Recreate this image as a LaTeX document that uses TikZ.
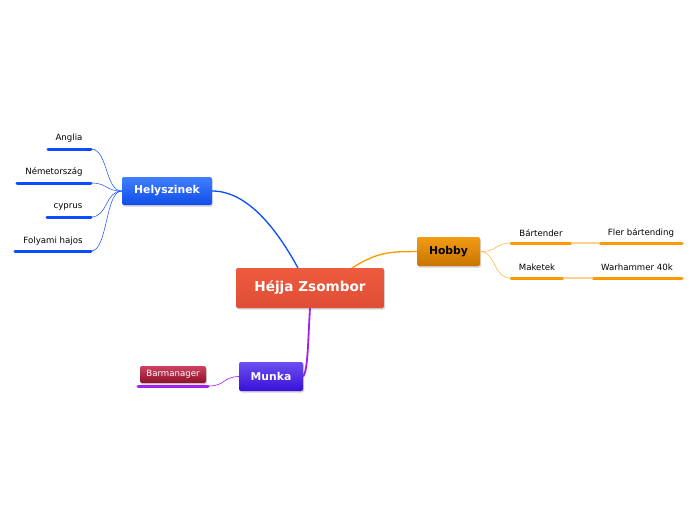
\documentclass[tikz,border=0pt]{standalone}
\usepackage{fontspec}
\setmainfont{DejaVu Sans}
\usetikzlibrary{shadows}

\definecolor{blueline}{RGB}{10,76,255}
\definecolor{orangeline}{RGB}{255,153,0}
\definecolor{purpleline}{RGB}{160,32,240}

\tikzset{
  topic/.style={rounded corners=2pt, text=white, font=\bfseries\fontsize{10.8}{13}\selectfont,
    drop shadow={opacity=0.35, shadow xshift=1pt, shadow yshift=-1.5pt}},
  leaf/.style={font=\fontsize{8.6}{10}\selectfont, inner sep=0pt}
}

\begin{document}
\begin{tikzpicture}[x=1pt, y=-1pt]

\useasboundingbox (0,0) rectangle (696,520);

% main topics
\node (root) at (310,288) [topic, minimum width=148pt, minimum height=40pt,
  top color={rgb,255:red,238;green,90;blue,62}, bottom color={rgb,255:red,222;green,78;blue,54},
  font=\bfseries\fontsize{13.6}{16}\selectfont] {Héjja Zsombor};

\node (helyszinek) at (167,191) [topic, minimum width=90pt, minimum height=28pt,
  top color={rgb,255:red,64;green,126;blue,255}, bottom color={rgb,255:red,16;green,78;blue,232}] {Helyszinek};

\node (hobby) at (448.5,251.5) [topic, minimum width=63pt, minimum height=29pt, text=black,
  top color={rgb,255:red,242;green,156;blue,20}, bottom color={rgb,255:red,200;green,116;blue,0}] {Hobby};

\node (munka) at (271,376.5) [topic, minimum width=64pt, minimum height=29pt,
  top color={rgb,255:red,108;green,80;blue,240}, bottom color={rgb,255:red,56;green,16;blue,216}] {Munka};

\node (barmanager) at (173,374.5) [topic, minimum width=66pt, minimum height=17pt,
  font=\fontsize{8.6}{10}\selectfont,
  top color={rgb,255:red,204;green,68;blue,96}, bottom color={rgb,255:red,142;green,16;blue,40}] {Barmanager};

% connectors from the root
\draw [blueline, line width=1.3pt] (helyszinek.east) .. controls (250,191) and (280,235) .. (298,268);
\draw [orangeline, line width=1.3pt] (352,268) .. controls (380,250) and (395,252) .. (hobby.west);
\draw [purpleline, line width=1.8pt] (310,308) .. controls (308,340) and (308,370) .. (munka.east);

% Helyszinek children
\coordinate (anglia) at (91,149);
\coordinate (nemet) at (91,183);
\coordinate (cyprus) at (91,217);
\coordinate (folyami) at (91,251);

\draw [blueline, line width=3pt, line cap=round] (48,149) -- (anglia);
\draw [blueline, line width=3pt, line cap=round] (17,183) -- (nemet);
\draw [blueline, line width=3pt, line cap=round] (47,217) -- (cyprus);
\draw [blueline, line width=3pt, line cap=round] (15,251) -- (folyami);

\node (t1) at (69,138) [leaf] {Anglia};
\node (t2) at (54,172) [leaf] {Németország};
\node (t3) at (68,207) [leaf] {cyprus};
\node (t4) at (53,241) [leaf] {Folyami hajos};

\foreach \c in {anglia, nemet, cyprus, folyami}
  \draw [blueline, line width=0.5pt] (helyszinek.west) .. controls (105,191) and (108,0|-\c) .. (\c);

% Hobby children
\coordinate (bart) at (511,243);
\coordinate (maketek) at (511,278);

\draw [orangeline, line width=3pt, line cap=round] (bart) -- (571,243);
\draw [orangeline, line width=3pt, line cap=round] (600,243) -- (682,243);
\draw [orangeline, line width=3pt, line cap=round] (maketek) -- (563,278);
\draw [orangeline, line width=3pt, line cap=round] (593,278) -- (682,278);
\draw [orangeline!45, line width=1.2pt] (571,243) -- (600,243);
\draw [orangeline!45, line width=1.2pt] (563,278) -- (593,278);

\node (t5) at (541,233) [leaf] {Bártender};
\node (t6) at (641,233) [leaf] {Fler bártending};
\node (t7) at (537,267) [leaf] {Maketek};
\node (t8) at (637,267) [leaf] {Warhammer 40k};

\draw [orangeline!70, line width=0.6pt] (hobby.east) .. controls (497,252) and (495,243) .. (bart);
\draw [orangeline!70, line width=0.6pt] (hobby.east) .. controls (497,252) and (492,278) .. (maketek);

% Munka child
\draw [purpleline, line width=3pt, line cap=round] (138,386) -- (208,386);
\draw [purpleline, line width=0.6pt] (munka.west) .. controls (222,377) and (226,386) .. (208,386);

\end{tikzpicture}
\end{document}
